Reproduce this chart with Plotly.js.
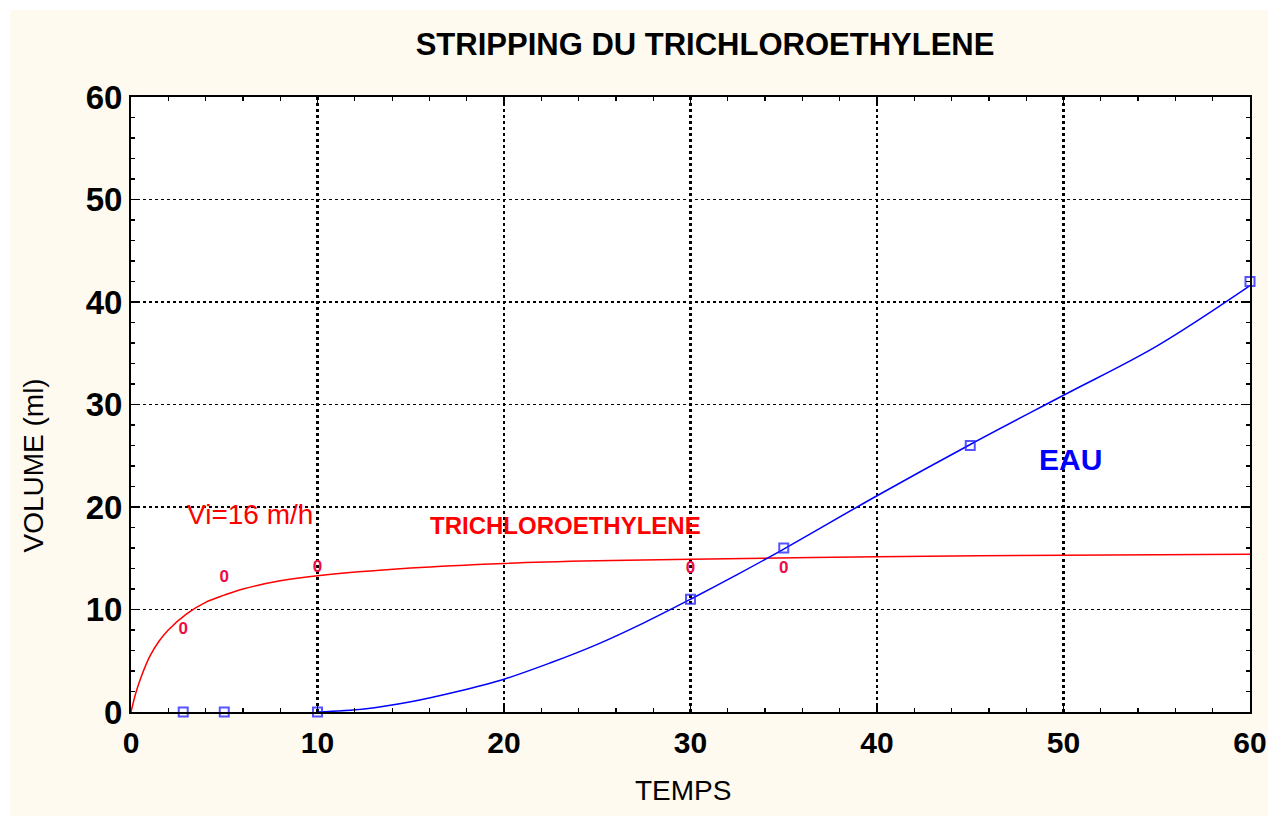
<!DOCTYPE html>
<html>
<head>
<meta charset="utf-8">
<script src="https://cdn.plot.ly/plotly-3.0.1.min.js"></script>
<style>
  html, body { margin: 0; padding: 0; background: #ffffff; }
  #chart { position: absolute; left: 10px; top: 10px; width: 1258px; height: 806px; }
</style>
</head>
<body>
<div id="chart"></div>
<script>
// Measured points: trichloroethylene (red "0" markers)
const trichloroTime = [2.8, 5, 10, 30, 35];
const trichloroVolume = [8, 13.1, 14.1, 14, 14];

// Measured points: water (blue squares)
const eauTime = [2.8, 5, 10, 30, 35, 45, 60];
const eauVolume = [0, 0, 0, 11, 16, 26, 42];

// Fitted curve: trichloroethylene
const trichloroCurveTime = [0, 0.25, 0.5, 1, 1.5, 2, 3, 4, 5, 6, 8, 10, 15, 20, 25, 30, 40, 50, 60];
const trichloroCurveVolume = [0, 1.8, 3.2, 5.4, 6.9, 8.0, 9.6, 10.7, 11.4, 12.0, 12.8, 13.3, 14.05, 14.5, 14.75, 14.9, 15.15, 15.3, 15.4];

// Fitted curve: water
const eauCurveTime = [10, 12.5, 15, 17.5, 20, 22.5, 25, 27.5, 30, 32.5, 35, 40, 45, 50, 55, 60];
const eauCurveVolume = [0, 0.3, 1.0, 2.0, 3.2, 4.8, 6.6, 8.7, 11.0, 13.4, 15.9, 21.1, 26.1, 30.9, 35.7, 41.6];

const tickVals = [0, 10, 20, 30, 40, 50, 60];
const tickText = ['0', '10', '20', '30', '40', '50', '60'];

const titleText = 'STRIPPING DU TRICHLOROETHYLENE';
const xTitle = 'TEMPS';
const yTitle = 'VOLUME (ml)';
const labelSpeed = 'Vi=16 m/h';
const labelTrichloro = 'TRICHLOROETHYLENE';
const labelEau = 'EAU';

const traces = [
  {
    x: trichloroCurveTime, y: trichloroCurveVolume, mode: 'lines',
    line: { color: '#ff0000', width: 1.5, shape: 'spline' }, hoverinfo: 'skip', cliponaxis: false
  },
  {
    x: eauCurveTime, y: eauCurveVolume, mode: 'lines',
    line: { color: '#0000ff', width: 1.5, shape: 'spline' }, hoverinfo: 'skip', cliponaxis: false
  },
  {
    x: trichloroTime, y: trichloroVolume, mode: 'text', text: trichloroTime.map(() => '0'),
    textposition: 'middle center',
    textfont: { family: 'Liberation Sans', size: 17, color: '#ee0a46', weight: 'bold' }, cliponaxis: false
  },
  {
    x: eauTime, y: eauVolume, mode: 'markers',
    marker: { symbol: 'square-open', size: 9, color: 'rgba(40,40,255,0.8)', line: { width: 2 } },
    cliponaxis: false
  }
];

const axisCommon = {
  range: [0, 60], tickmode: 'array', tickvals: tickVals, ticktext: tickText,
  showline: true, linecolor: '#000000', linewidth: 2, mirror: 'allticks',
  ticks: 'inside', ticklen: 7, tickcolor: '#000000', tickwidth: 1.5,
  tickfont: { family: 'Liberation Sans', size: 33, color: '#000000', weight: 'bold' },
  showgrid: true, gridcolor: '#000000', griddash: 'dot',
  zeroline: false, fixedrange: true,
  minor: { dtick: 2, ticks: 'inside', ticklen: 4, tickcolor: '#000000', tickwidth: 1.2, showgrid: false }
};

const layout = {
  width: 1258, height: 806,
  paper_bgcolor: '#fffaf0', plot_bgcolor: '#ffffff',
  margin: { l: 121, r: 18, t: 87, b: 104 },
  showlegend: false,
  title: {
    text: titleText, xref: 'container', yref: 'container', x: 0.5525, y: 0.958,
    xanchor: 'center', yanchor: 'middle',
    font: { family: 'Liberation Sans', size: 31, color: '#000000', weight: 'bold' }
  },
  xaxis: Object.assign({}, axisCommon, {
    gridwidth: 2.5, ticklabelstandoff: 3,
    tickfont: { family: 'Liberation Sans', size: 30, color: '#000000', weight: 'bold' }
  }),
  yaxis: Object.assign({}, axisCommon, { gridwidth: 1.3, ticklabelstandoff: 0 }),
  annotations: [
    { text: xTitle, xref: 'paper', yref: 'paper', x: 0.493, y: -0.127, showarrow: false,
      xanchor: 'center', yanchor: 'middle',
      font: { family: 'Liberation Sans', size: 28, color: '#000000' } },
    { text: yTitle, xref: 'paper', yref: 'paper', x: -0.088, y: 0.40, showarrow: false, textangle: -90,
      xanchor: 'center', yanchor: 'middle',
      font: { family: 'Liberation Sans', size: 28, color: '#000000' } },
    { text: labelSpeed, xref: 'x', yref: 'y', x: 6.4, y: 19.3, showarrow: false,
      font: { family: 'Liberation Sans', size: 28, color: '#ff0000' } },
    { text: labelTrichloro, xref: 'x', yref: 'y', x: 23.3, y: 18.2, showarrow: false,
      font: { family: 'Liberation Sans', size: 24, color: '#ff0000', weight: 'bold' } },
    { text: labelEau, xref: 'x', yref: 'y', x: 50.4, y: 24.6, showarrow: false,
      font: { family: 'Liberation Sans', size: 30, color: '#0000ff', weight: 'bold' } }
  ]
};

Plotly.newPlot('chart', traces, layout, { staticPlot: true, displayModeBar: false });
</script>
</body>
</html>
